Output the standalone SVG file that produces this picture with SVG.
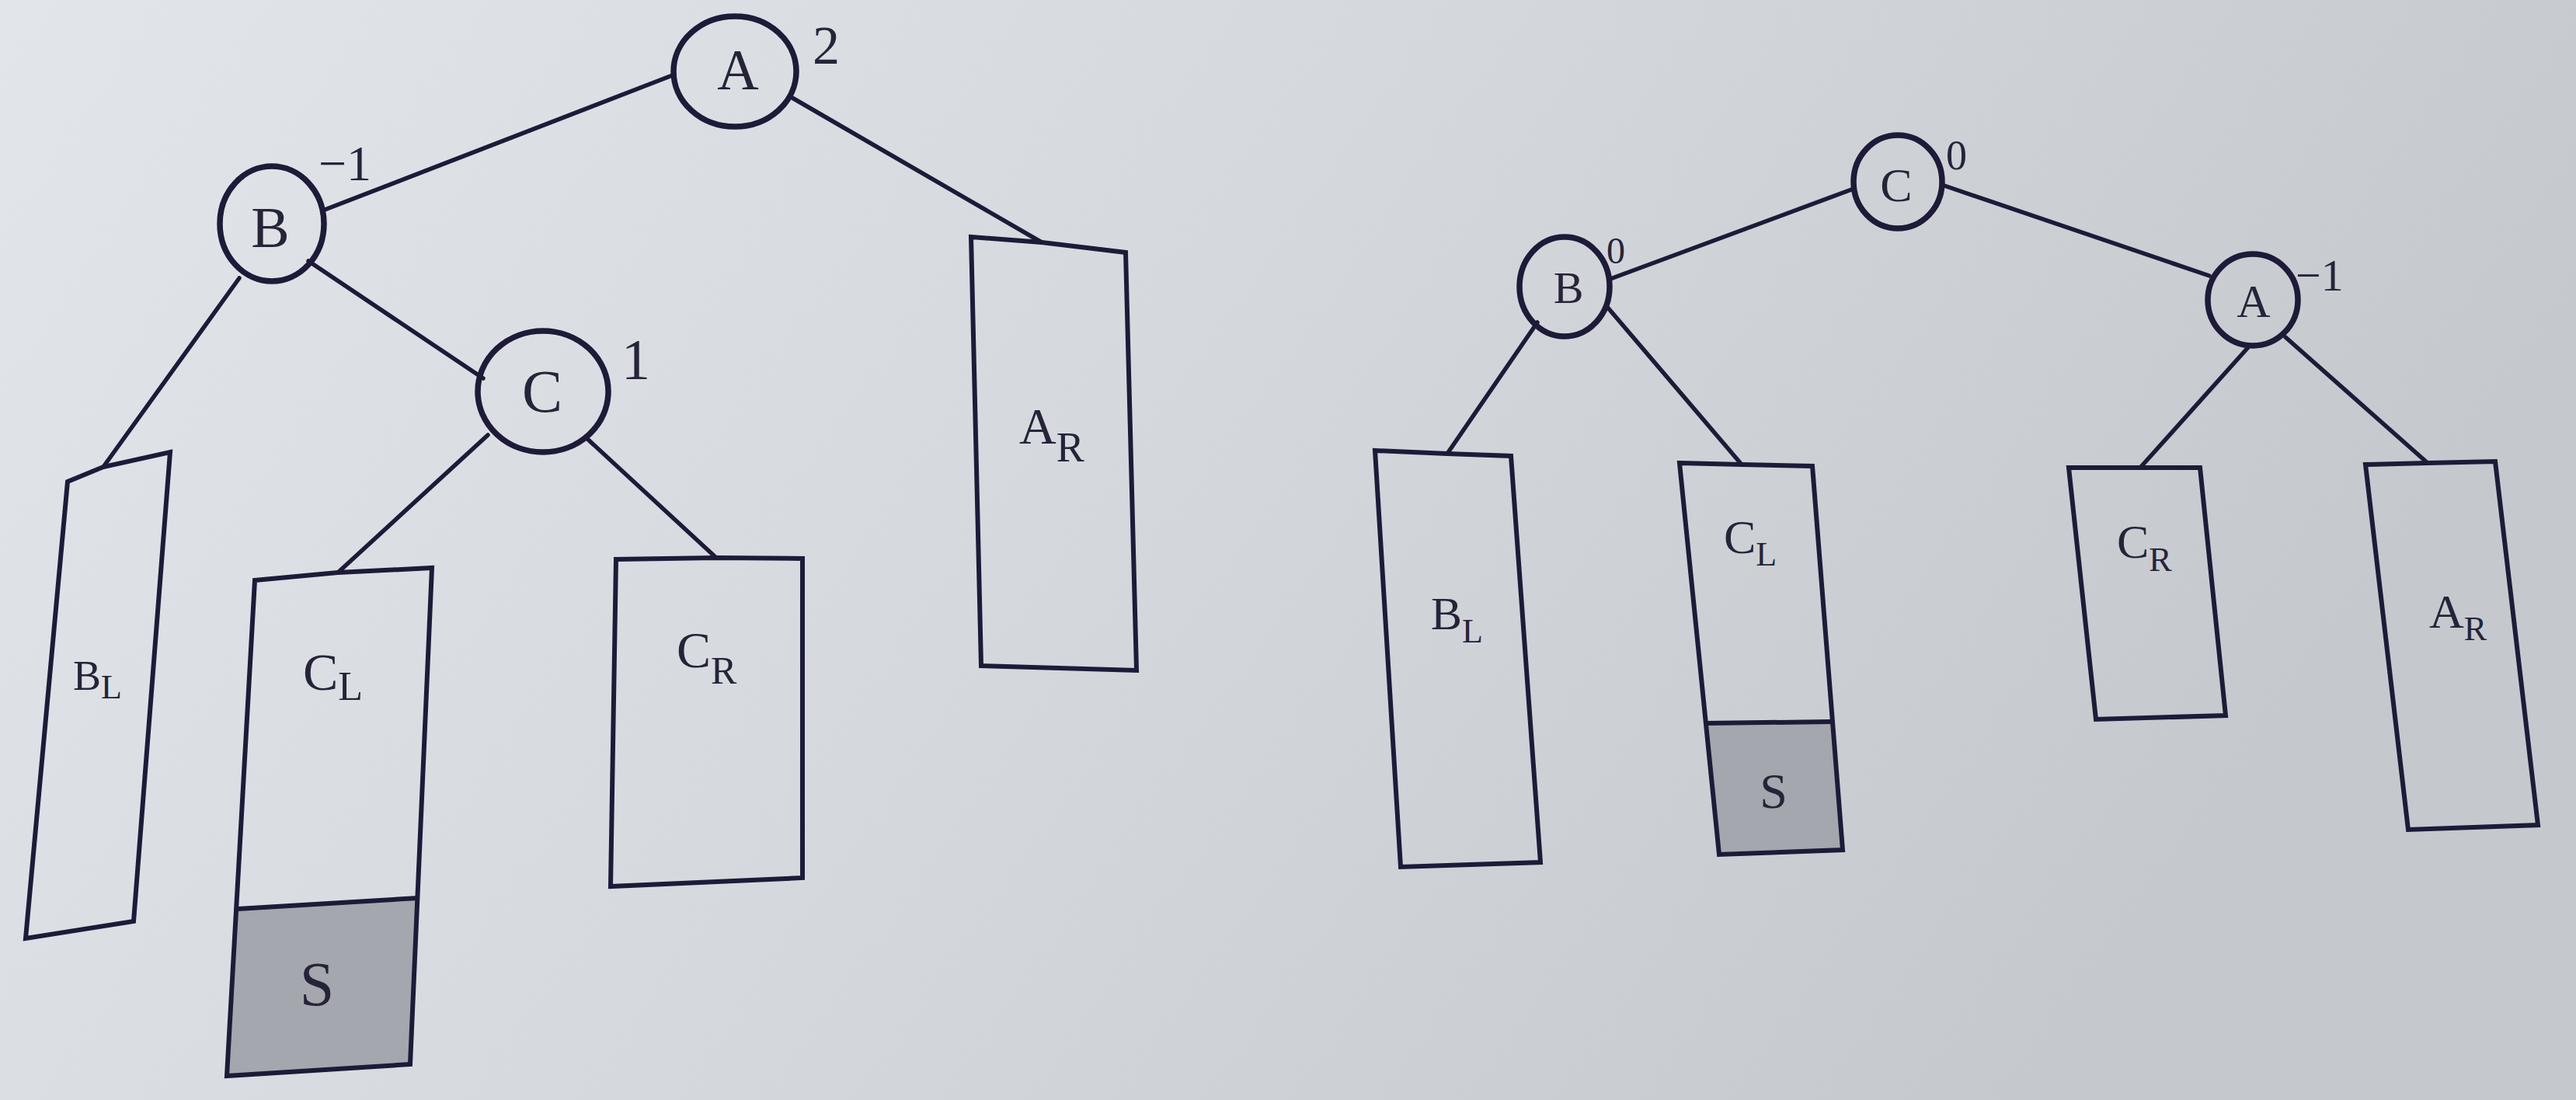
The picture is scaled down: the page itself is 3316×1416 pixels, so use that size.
<svg xmlns="http://www.w3.org/2000/svg" width="3316" height="1416" viewBox="0 0 3316 1416">
<defs>
<linearGradient id="paper" x1="0" y1="0" x2="1" y2="0.3">
<stop offset="0" stop-color="#e2e6eb"/>
<stop offset="0.5" stop-color="#d5d9de"/>
<stop offset="1" stop-color="#c5c9ce"/>
</linearGradient>
<style>
.ln{stroke:#1d1b38;stroke-width:5.5;fill:none;stroke-linecap:round}
.nd{fill:none;stroke:#1d1b38;stroke-width:7.5}
.bx{fill:none;stroke:#1d1b38;stroke-width:6;stroke-linejoin:miter}
.sh{fill:#a4a7ad}
.t{font-family:"Liberation Serif","Times New Roman",serif;fill:#262438}
</style>
</defs>
<rect width="3316" height="1416" fill="url(#paper)"/>

<g id="connectors">
<line class="ln" x1="868" y1="96" x2="418" y2="270"/>
<line class="ln" x1="1020" y1="126" x2="1341" y2="312"/>
<line class="ln" x1="308" y1="358" x2="133" y2="601"/>
<line class="ln" x1="397" y1="336" x2="622" y2="487"/>
<line class="ln" x1="628" y1="560" x2="435" y2="737"/>
<line class="ln" x1="754" y1="563" x2="922" y2="718"/>
<line class="ln" x1="2386" y1="243" x2="2073" y2="359"/>
<line class="ln" x1="2500" y1="238" x2="2844" y2="355"/>
<line class="ln" x1="1979" y1="415" x2="1863" y2="584"/>
<line class="ln" x1="2068" y1="394" x2="2242" y2="598"/>
<line class="ln" x1="2895" y1="446" x2="2755" y2="602"/>
<line class="ln" x1="2942" y1="434" x2="3125" y2="596"/>
</g>

<!-- left tree -->
<g id="nodeA1">
<ellipse class="nd" cx="946" cy="92" rx="79" ry="71"/>
<text class="t" x="950" y="115" font-size="74" text-anchor="middle">A</text>
<text class="t" x="1046" y="82" font-size="70">2</text>
</g>
<g id="nodeB1">
<ellipse class="nd" cx="350" cy="288" rx="67" ry="74"/>
<text class="t" x="348" y="318" font-size="74" text-anchor="middle">B</text>
<text class="t" x="410" y="232" font-size="64">−1</text>
</g>
<g id="nodeC1">
<ellipse class="nd" cx="699" cy="504" rx="84" ry="78"/>
<text class="t" x="698" y="530" font-size="78" text-anchor="middle">C</text>
<text class="t" x="800" y="488" font-size="74">1</text>
</g>
<g id="treeBL1">
<polygon class="bx" points="87,620 133,601 219,582 172,1186 33,1208"/>
<text class="t" x="94" y="888" font-size="54">B<tspan font-size="44" dy="11">L</tspan></text>
</g>
<g id="treeCL1">
<polygon class="sh" points="306,1170 538,1156 528,1370 292,1385"/>
<polygon class="bx" points="328,747 435,737 556,731 528,1370 292,1385"/>
<line class="bx" x1="306" y1="1170" x2="538" y2="1156"/>
<text class="t" x="390" y="888" font-size="68">C<tspan font-size="52" dy="13">L</tspan></text>
<text class="t" x="408" y="1294" font-size="80" text-anchor="middle">S</text>
</g>
<g id="treeCR1">
<polygon class="bx" points="793,720 922,718 1033,719 1033,1130 786,1141"/>
<text class="t" x="871" y="859" font-size="66">C<tspan font-size="50" dy="21">R</tspan></text>
</g>
<g id="treeAR1">
<polygon class="bx" points="1250,305 1341,312 1449,325 1463,863 1263,857"/>
<text class="t" x="1312" y="571" font-size="66">A<tspan font-size="54" dy="23">R</tspan></text>
</g>

<!-- right tree -->
<g id="nodeC2">
<ellipse class="nd" cx="2443" cy="234" rx="57" ry="60"/>
<text class="t" x="2441" y="259" font-size="62" text-anchor="middle">C</text>
<text class="t" x="2505" y="218" font-size="54">0</text>
</g>
<g id="nodeB2">
<ellipse class="nd" cx="2014" cy="369" rx="58" ry="64"/>
<text class="t" x="2019" y="390" font-size="58" text-anchor="middle">B</text>
<text class="t" x="2068" y="339" font-size="48">0</text>
</g>
<g id="nodeA2">
<ellipse class="nd" cx="2900" cy="386" rx="58" ry="59"/>
<text class="t" x="2901" y="408" font-size="60" text-anchor="middle">A</text>
<text class="t" x="2955" y="374" font-size="58">−1</text>
</g>
<g id="treeBL2">
<polygon class="bx" points="1770,580 1863,584 1945,587 1983,1110 1803,1116"/>
<text class="t" x="1842" y="810" font-size="60">B<tspan font-size="44" dy="17">L</tspan></text>
</g>
<g id="treeCL2">
<polygon class="sh" points="2196,931 2358,929 2372,1094 2213,1100"/>
<polygon class="bx" points="2162,596 2242,598 2333,600 2372,1094 2213,1100"/>
<line class="bx" x1="2196" y1="931" x2="2358" y2="929"/>
<text class="t" x="2219" y="712" font-size="62">C<tspan font-size="44" dy="16">L</tspan></text>
<text class="t" x="2283" y="1040" font-size="64" text-anchor="middle">S</text>
</g>
<g id="treeCR2">
<polygon class="bx" points="2663,602 2755,602 2832,602 2865,921 2698,926"/>
<text class="t" x="2725" y="718" font-size="62">C<tspan font-size="44" dy="17">R</tspan></text>
</g>
<g id="treeAR2">
<polygon class="bx" points="3045,598 3125,596 3212,594 3267,1062 3100,1068"/>
<text class="t" x="3127" y="808" font-size="62">A<tspan font-size="44" dy="16">R</tspan></text>
</g>
</svg>
